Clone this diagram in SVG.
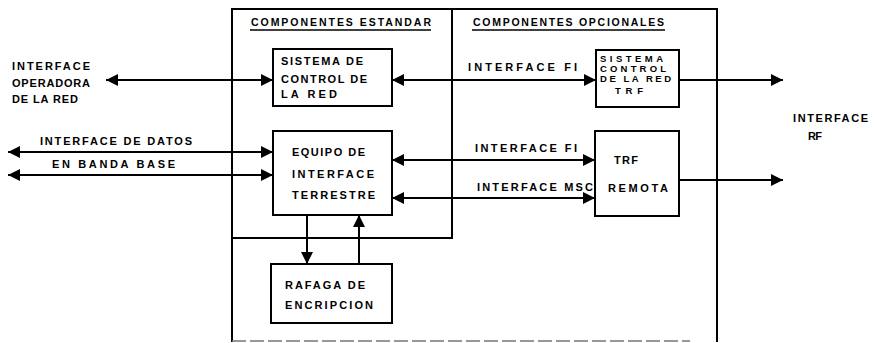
<svg xmlns="http://www.w3.org/2000/svg" width="876" height="343" viewBox="0 0 876 343">
<style>
.t{font-family:"Liberation Sans",Arial,sans-serif;font-weight:bold;font-size:11px;fill:#000}
.s{font-size:9.5px}
.h{font-size:10.5px}
.b{fill:#fff;stroke:#000;stroke-width:2}
.l{fill:none;stroke:#000;stroke-width:2}
.c{fill:none;stroke:#000;stroke-width:2;marker-end:url(#ah)}
.d{fill:none;stroke:#000;stroke-width:2;marker-start:url(#ahs);marker-end:url(#ah)}
</style>
<defs>
<marker id="ah" markerUnits="userSpaceOnUse" markerWidth="13" markerHeight="12" refX="12" refY="6" orient="auto"><path d="M0,0 L12,6 L0,12 Z" fill="#000"/></marker>
<marker id="ahs" markerUnits="userSpaceOnUse" markerWidth="13" markerHeight="12" refX="1" refY="6" orient="auto"><path d="M13,0 L1,6 L13,12 Z" fill="#000"/></marker>
</defs>
<g id="frames">
<path class="l" d="M232,342 L232,9 L717,9 L717,342"/>
<path class="l" d="M232,238 L452,238 L452,9"/>
<line x1="232" y1="341" x2="690" y2="341" stroke="#777" stroke-width="1.5" stroke-dasharray="14,4"/>
<text class="t h" x="251" y="26" textLength="180" lengthAdjust="spacing">COMPONENTES ESTANDAR</text>
<line x1="250" y1="30" x2="431" y2="30" stroke="#000" stroke-width="1.5"/>
<text class="t h" x="473" y="26" textLength="191" lengthAdjust="spacing">COMPONENTES OPCIONALES</text>
<line x1="472" y1="30" x2="665" y2="30" stroke="#000" stroke-width="1.5"/>
</g>
<g id="connectors">
<line class="d" x1="106" y1="80" x2="273" y2="80"/>
<line class="d" x1="392" y1="80" x2="596" y2="80"/>
<line class="c" x1="679" y1="80" x2="783" y2="80"/>
<line class="d" x1="8" y1="152" x2="273" y2="152"/>
<line class="d" x1="8" y1="175" x2="273" y2="175"/>
<line class="d" x1="392" y1="160" x2="595" y2="160"/>
<line class="d" x1="392" y1="198" x2="595" y2="198"/>
<line class="c" x1="679" y1="180" x2="783" y2="180"/>
<line class="c" x1="307" y1="215" x2="307" y2="264"/>
<line class="c" x1="359" y1="264" x2="359" y2="215"/>
</g>
<g id="labels">
<text class="t" x="12" y="70" textLength="78" lengthAdjust="spacing">INTERFACE</text>
<text class="t" x="12" y="87" textLength="78" lengthAdjust="spacing">OPERADORA</text>
<text class="t" x="12" y="103" textLength="66" lengthAdjust="spacing">DE LA RED</text>
<text class="t" x="40" y="145" textLength="152" lengthAdjust="spacing">INTERFACE DE DATOS</text>
<text class="t" x="52" y="168" textLength="123" lengthAdjust="spacing">EN BANDA  BASE</text>
<text class="t" x="468" y="71" textLength="109" lengthAdjust="spacing">INTERFACE  FI</text>
<text class="t" x="475" y="152" textLength="102" lengthAdjust="spacing">INTERFACE FI</text>
<text class="t" x="477" y="191" textLength="116" lengthAdjust="spacing">INTERFACE MSC</text>
<text class="t" x="793" y="122" textLength="75" lengthAdjust="spacing">INTERFACE</text>
<text class="t" x="808" y="140" textLength="14" lengthAdjust="spacing">RF</text>
</g>
<g id="n-sistema">
<rect class="b" x="273" y="49" width="119" height="57"/>
<text class="t" x="281" y="65" textLength="82" lengthAdjust="spacing">SISTEMA  DE</text>
<text class="t" x="281" y="83" textLength="86" lengthAdjust="spacing">CONTROL DE</text>
<text class="t" x="281" y="98" textLength="56" lengthAdjust="spacing">LA  RED</text>
</g>
<g id="n-equipo">
<rect class="b" x="273" y="131" width="119" height="84"/>
<text class="t" x="292" y="156" textLength="73" lengthAdjust="spacing">EQUIPO  DE</text>
<text class="t" x="292" y="178" textLength="82" lengthAdjust="spacing">INTERFACE</text>
<text class="t" x="292" y="199" textLength="83" lengthAdjust="spacing">TERRESTRE</text>
</g>
<g id="n-rafaga">
<rect class="b" x="271" y="264" width="121" height="59"/>
<text class="t" x="285" y="289" textLength="80" lengthAdjust="spacing">RAFAGA  DE</text>
<text class="t" x="285" y="309" textLength="88" lengthAdjust="spacing">ENCRIPCION</text>
</g>
<g id="n-sistema-trf">
<rect class="b" x="596" y="50" width="83" height="57"/>
<text class="t s" x="600" y="62" textLength="63" lengthAdjust="spacing">SISTEMA</text>
<text class="t s" x="600" y="72" textLength="66" lengthAdjust="spacing">CONTROL</text>
<text class="t s" x="600" y="82" textLength="71" lengthAdjust="spacing">DE LA RED</text>
<text class="t s" x="615" y="94" textLength="28" lengthAdjust="spacing">TRF</text>
</g>
<g id="n-trf-remota">
<rect class="b" x="595" y="131" width="84" height="85"/>
<text class="t" x="614" y="164" textLength="24" lengthAdjust="spacing">TRF</text>
<text class="t" x="608" y="192" textLength="60" lengthAdjust="spacing">REMOTA</text>
</g>
</svg>
